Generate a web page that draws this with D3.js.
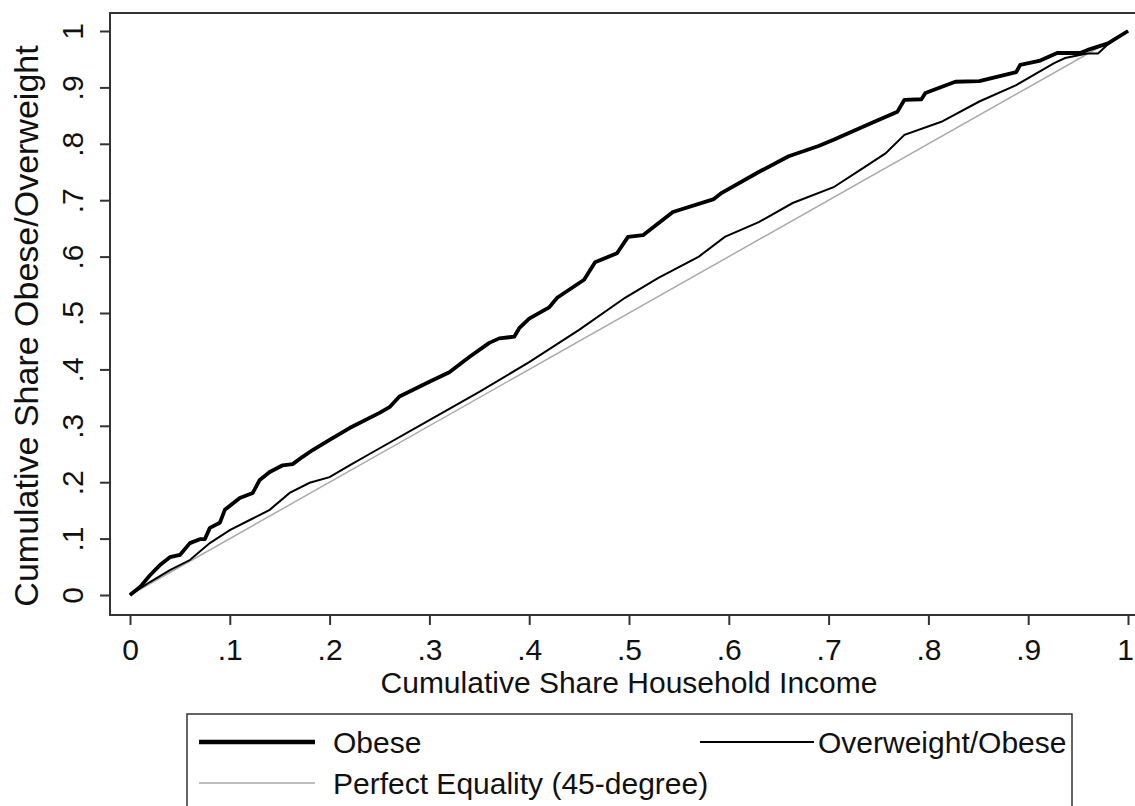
<!DOCTYPE html>
<html>
<head>
<meta charset="UTF-8">
<title>Concentration curves</title>
<script src="https://cdn.jsdelivr.net/npm/d3@7"></script>
<style>
  body { margin: 0; background: #fff; }
  text { font-family: "Liberation Sans", Arial, sans-serif; fill: #111; }
</style>
</head>
<body>
<svg id="chart" width="1135" height="806"></svg>
<script>
// cumulative share of household income (x) and cumulative share of the group (y)
var obeseX = [0, 0.01, 0.02, 0.03, 0.04, 0.05, 0.06, 0.07, 0.075, 0.08, 0.09, 0.095, 0.11, 0.123, 0.13, 0.14, 0.153, 0.163, 0.173, 0.183,
  0.2, 0.22, 0.25, 0.26, 0.27, 0.3, 0.32, 0.34, 0.36, 0.37, 0.38, 0.385, 0.39, 0.4, 0.42, 0.428, 0.455, 0.466, 0.488, 0.499, 0.514, 0.544, 0.585, 0.593,
  0.63, 0.66, 0.69, 0.705, 0.743, 0.769, 0.776, 0.793, 0.797, 0.827, 0.851, 0.888, 0.892, 0.911, 0.929, 0.952, 0.959, 0.98, 1];
var obeseY = [0, 0.014, 0.035, 0.053, 0.067, 0.071, 0.092, 0.099, 0.099, 0.119, 0.128, 0.151, 0.172, 0.181, 0.204, 0.218, 0.23, 0.232, 0.245, 0.257,
  0.275, 0.296, 0.323, 0.333, 0.352, 0.378, 0.395, 0.422, 0.447, 0.455, 0.457, 0.458, 0.473, 0.49, 0.51, 0.527, 0.559, 0.59, 0.606, 0.635, 0.638, 0.679, 0.702, 0.713,
  0.75, 0.778, 0.796, 0.807, 0.837, 0.857, 0.878, 0.879, 0.89, 0.91, 0.911, 0.927, 0.94, 0.947, 0.961, 0.961, 0.966, 0.978, 1];

var overX = [0, 0.02, 0.04, 0.06, 0.08, 0.1, 0.12, 0.14, 0.16, 0.18, 0.2, 0.22, 0.24, 0.3, 0.35, 0.4, 0.45,
  0.496, 0.529, 0.57, 0.596, 0.63, 0.664, 0.705, 0.731, 0.757, 0.776, 0.813, 0.851, 0.888, 0.926, 0.937, 0.959, 0.97, 0.985, 1];
var overY = [0, 0.023, 0.044, 0.062, 0.092, 0.115, 0.133, 0.151, 0.181, 0.199, 0.209, 0.23, 0.25, 0.31, 0.36, 0.413, 0.47,
  0.527, 0.562, 0.6, 0.635, 0.661, 0.695, 0.723, 0.753, 0.783, 0.816, 0.839, 0.875, 0.904, 0.943, 0.952, 0.96, 0.96, 0.985, 1];

var equalX = [0, 1];
var equalY = [0, 1];

var tickValues = [0, 0.1, 0.2, 0.3, 0.4, 0.5, 0.6, 0.7, 0.8, 0.9, 1];
var tickLabels = ["0", ".1", ".2", ".3", ".4", ".5", ".6", ".7", ".8", ".9", "1"];

var xTitle = "Cumulative Share Household Income";
var yTitle = "Cumulative Share Obese/Overweight";
var legendNames = ["Obese", "Overweight/Obese", "Perfect Equality (45-degree)"];

var svg = d3.select("#chart");
var frame = {left: 110, top: 13, right: 1135, bottom: 615};

var x = d3.scaleLinear().domain([0, 1]).range([130, 1128]);
var y = d3.scaleLinear().domain([0, 1]).range([595, 31]);

// plot region outline (left, top, bottom; right side falls outside the picture)
svg.append("path")
  .attr("d", "M" + frame.right + "," + frame.top + "H" + frame.left + "V" + frame.bottom + "H" + frame.right)
  .attr("fill", "none")
  .attr("stroke", "#333")
  .attr("stroke-width", 2);

// y axis
var gy = svg.append("g")
  .attr("transform", "translate(" + frame.left + ",0)")
  .call(d3.axisLeft(y).tickValues(tickValues)
    .tickFormat(function(d, i) { return tickLabels[i]; })
    .tickSize(10));
gy.select(".domain").remove();
gy.selectAll("line").attr("stroke", "#333").attr("stroke-width", 2);
gy.selectAll("text")
  .attr("x", null).attr("dy", null)
  .attr("text-anchor", "middle")
  .attr("font-size", 30)
  .attr("font-family", null)
  .attr("fill", "#111")
  .attr("transform", "translate(-27,0) rotate(-90)");

// x axis
var gx = svg.append("g")
  .attr("transform", "translate(0," + frame.bottom + ")")
  .call(d3.axisBottom(x).tickValues(tickValues)
    .tickFormat(function(d, i) { return tickLabels[i]; })
    .tickSize(10));
gx.select(".domain").remove();
gx.selectAll("line").attr("stroke", "#333").attr("stroke-width", 2);
gx.selectAll("text")
  .attr("y", 45).attr("dy", null)
  .attr("font-size", 30)
  .attr("font-family", null)
  .attr("fill", "#111");
// last label sits right at the picture's edge
gx.selectAll("text").filter(function(d) { return d === 1; }).attr("dx", -3);

// axis titles
svg.append("text")
  .attr("x", (x(0) + x(1)) / 2)
  .attr("y", 693)
  .attr("text-anchor", "middle")
  .attr("font-size", 30)
  .text(xTitle);

svg.append("text")
  .attr("transform", "translate(38,326) rotate(-90)")
  .attr("text-anchor", "middle")
  .attr("font-size", 34)
  .text(yTitle);

// curves
function pts(xs, ys) { return xs.map(function(v, i) { return [v, ys[i]]; }); }
var line = d3.line().x(function(d) { return x(d[0]); }).y(function(d) { return y(d[1]); });

svg.append("path").datum(pts(equalX, equalY))
  .attr("d", line).attr("fill", "none")
  .attr("stroke", "#aaa").attr("stroke-width", 1.5);

svg.append("path").datum(pts(overX, overY))
  .attr("d", line).attr("fill", "none")
  .attr("stroke", "#000").attr("stroke-width", 2);

svg.append("path").datum(pts(obeseX, obeseY))
  .attr("d", line).attr("fill", "none")
  .attr("stroke", "#000").attr("stroke-width", 3.8)
  .attr("stroke-linejoin", "round");

// legend
var lg = svg.append("g");
lg.append("rect")
  .attr("x", 187).attr("y", 714)
  .attr("width", 885).attr("height", 120)
  .attr("fill", "#fff").attr("stroke", "#333").attr("stroke-width", 1.5);

var keys = [
  {name: legendNames[0], x0: 199, x1: 315, y: 742, tx: 333, ty: 753, color: "#000", w: 4.5},
  {name: legendNames[1], x0: 700, x1: 814, y: 742, tx: 818, ty: 753, color: "#000", w: 2},
  {name: legendNames[2], x0: 199, x1: 315, y: 783, tx: 333, ty: 794, color: "#aaa", w: 1.5}
];
keys.forEach(function(k) {
  lg.append("line")
    .attr("x1", k.x0).attr("x2", k.x1).attr("y1", k.y).attr("y2", k.y)
    .attr("stroke", k.color).attr("stroke-width", k.w);
  lg.append("text")
    .attr("x", k.tx).attr("y", k.ty)
    .attr("font-size", 30)
    .text(k.name);
});
</script>
</body>
</html>
